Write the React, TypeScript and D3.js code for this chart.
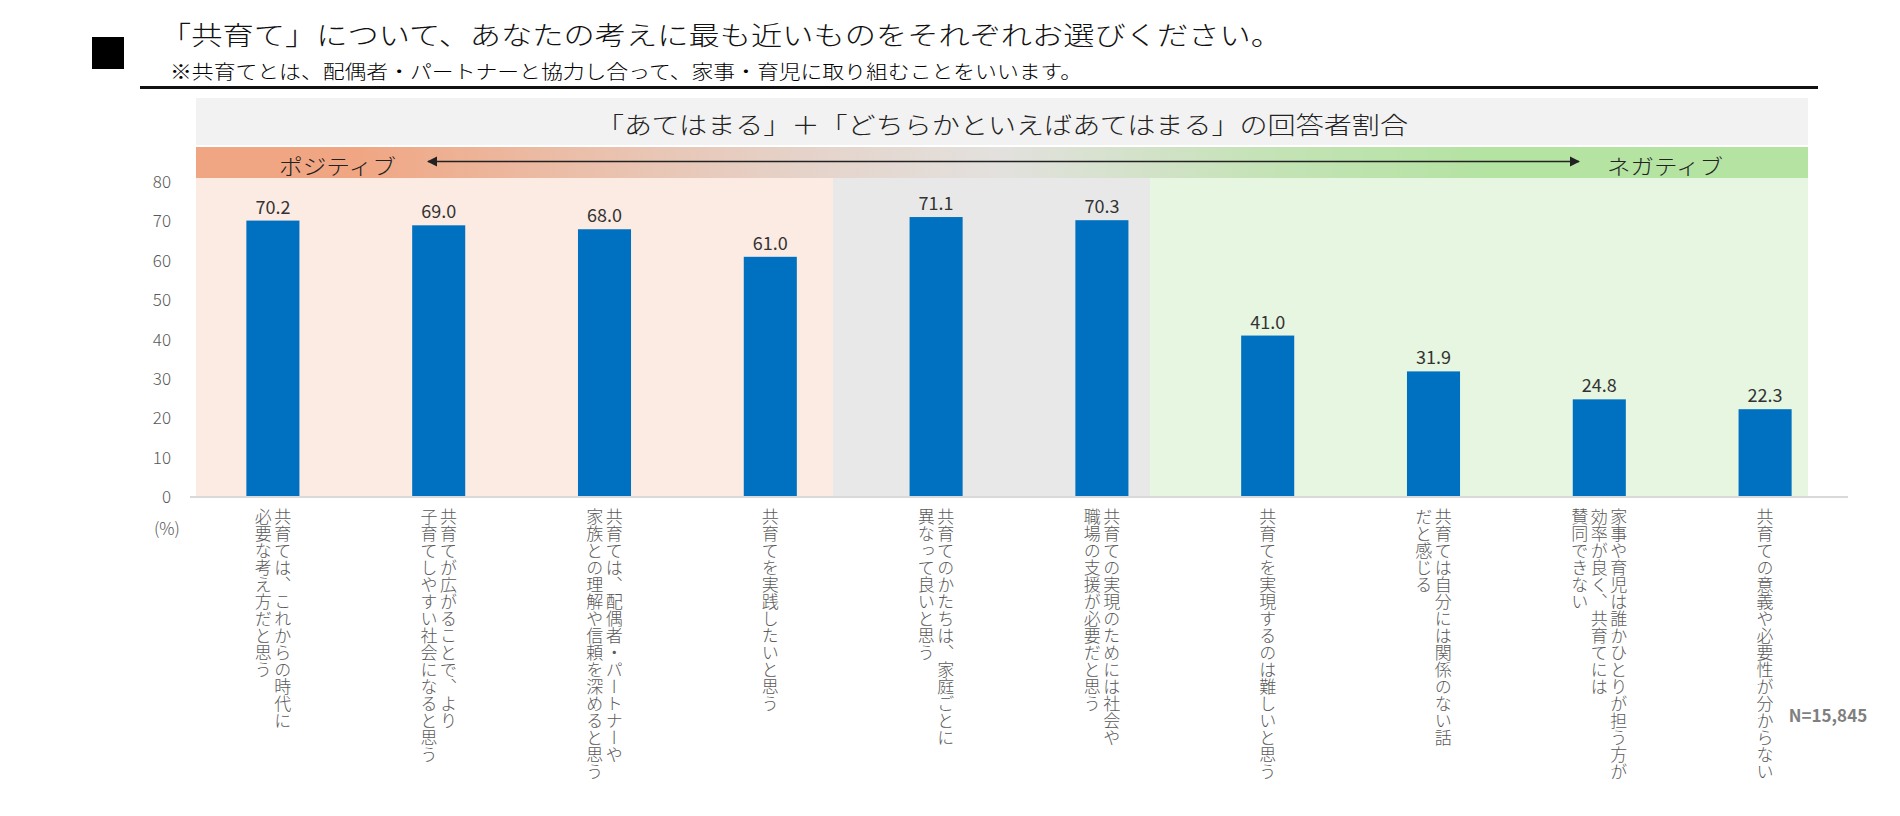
import * as d3 from 'd3';

// 設問ごとのラベル（縦書き、行ごと）
const labelLines: string[][] = [
  ['共育ては、これからの時代に', '必要な考え方だと思う'],
  ['共育てが広がることで、より', '子育てしやすい社会になると思う'],
  ['共育ては、配偶者・パートナーや', '家族との理解や信頼を深めると思う'],
  ['共育てを実践したいと思う'],
  ['共育てのかたちは、家庭ごとに', '異なって良いと思う'],
  ['共育ての実現のためには社会や', '職場の支援が必要だと思う'],
  ['共育てを実現するのは難しいと思う'],
  ['共育ては自分には関係のない話', 'だと感じる'],
  ['家事や育児は誰かひとりが担う方が', '効率が良く、共育てには', '賛同できない'],
  ['共育ての意義や必要性が分からない'],
];
const categories = labelLines.map(l => l.join(''));
const values = [70.2, 69.0, 68.0, 61.0, 71.1, 70.3, 41.0, 31.9, 24.8, 22.3];
const yTicks = [0, 10, 20, 30, 40, 50, 60, 70, 80];

const W = 1900;
const H = 816;
const FONT = "'Noto Sans CJK JP', 'Noto Sans', sans-serif";
const GREY = '#595959';

export default function App() {
  const x = d3.scaleBand<string>()
    .domain(categories)
    .range([190, 1848])
    .paddingInner(0.68)
    .paddingOuter(0.34);
  const y = d3.scaleLinear().domain([0, 80]).range([497, 182]);

  const plotTop = 178;
  const plotBottom = y(0);
  const lineGap = 19.5;

  return (
    <svg width={W} height={H} style={{ position: 'absolute', left: 0, top: 0, background: '#fff' }}
      fontFamily={FONT} fontWeight={300}>
      <defs>
        <linearGradient id="band" x1="0" x2="1" y1="0" y2="0">
          <stop offset="0" stopColor="#f0a683" />
          <stop offset="0.1" stopColor="#f0a683" />
          <stop offset="0.25" stopColor="#eac1ad" />
          <stop offset="0.38" stopColor="#e5d3ca" />
          <stop offset="0.5" stopColor="#e3e1de" />
          <stop offset="0.66" stopColor="#c5e3b7" />
          <stop offset="0.8" stopColor="#b4e3a2" />
          <stop offset="1" stopColor="#b4e3a2" />
        </linearGradient>
        <marker id="arrowR" viewBox="0 0 10 10" refX="9" refY="5" markerWidth="7" markerHeight="7" orient="auto">
          <path d="M0,0L10,5L0,10z" fill="#222" />
        </marker>
        <marker id="arrowL" viewBox="0 0 10 10" refX="1" refY="5" markerWidth="7" markerHeight="7" orient="auto">
          <path d="M10,0L0,5L10,10z" fill="#222" />
        </marker>
      </defs>

      {/* タイトル */}
      <rect x={92} y={37} width={32} height={32} fill="#000" />
      <text x={160} y={45} fontSize={26} fill="#111" textLength={1122} lengthAdjust="spacingAndGlyphs">
        「共育て」について、あなたの考えに最も近いものをそれぞれお選びください。
      </text>
      <text x={170} y={79} fontSize={19} fill="#000" textLength={912} lengthAdjust="spacingAndGlyphs">
        ※共育てとは、配偶者・パートナーと協力し合って、家事・育児に取り組むことをいいます。
      </text>
      <rect x={140} y={86} width={1678} height={3} fill="#111" />

      {/* 見出し */}
      <rect x={196} y={98} width={1612} height={47} fill="#f2f2f2" />
      <text x={596} y={134} fontSize={24} fill="#222" textLength={812} lengthAdjust="spacingAndGlyphs">
        「あてはまる」＋「どちらかといえばあてはまる」の回答者割合
      </text>
      <rect x={196} y={147} width={1612} height={31} fill="url(#band)" />
      <text x={279} y={174} fontSize={21} fill="#222" textLength={117} lengthAdjust="spacingAndGlyphs">ポジティブ</text>
      <text x={1607} y={174} fontSize={21} fill="#222" textLength={116} lengthAdjust="spacingAndGlyphs">ネガティブ</text>
      <line x1={428} x2={1579} y1={161.5} y2={161.5} stroke="#222" strokeWidth={1.5}
        markerStart="url(#arrowL)" markerEnd="url(#arrowR)" />

      {/* 背景の区分 */}
      <rect x={196} y={plotTop} width={637} height={plotBottom - plotTop} fill="#fcebe3" />
      <rect x={833} y={plotTop} width={317} height={plotBottom - plotTop} fill="#e8e8e8" />
      <rect x={1150} y={plotTop} width={658} height={plotBottom - plotTop} fill="#e6f6e0" />

      {/* y軸目盛 */}
      {yTicks.map(t => (
        <text key={t} x={171} y={y(t) + 6} fontSize={17} fill={GREY} textAnchor="end">{t}</text>
      ))}
      <text x={167} y={535} fontSize={17} fill={GREY} textAnchor="middle">(%)</text>

      {/* 棒 */}
      {categories.map((c, i) => (
        <g key={c}>
          <rect x={x(c)} y={y(values[i])} width={x.bandwidth()} height={plotBottom - y(values[i])} fill="#0070c0" />
          <text x={(x(c) ?? 0) + x.bandwidth() / 2} y={y(values[i]) - 7} fontSize={18} fontWeight={400}
            fill="#333" textAnchor="middle">
            {values[i].toFixed(1)}
          </text>
        </g>
      ))}
      <line x1={190} x2={1848} y1={plotBottom} y2={plotBottom} stroke="#d9d9d9" strokeWidth={2} />

      {/* 縦書きラベル */}
      {labelLines.map((lines, i) => {
        const cx = (x(categories[i]) ?? 0) + x.bandwidth() / 2;
        const n = lines.length;
        return lines.map((line, j) => (
          <text key={`${i}-${j}`} x={cx + ((n - 1) / 2 - j) * lineGap} y={508} fontSize={17} fill={GREY}
            style={{ writingMode: 'vertical-rl' }}>
            {line}
          </text>
        ));
      })}

      <text x={1828} y={722} fontSize={17} fontWeight="bold" fill="#7f7f7f" textAnchor="middle">N=15,845</text>
    </svg>
  );
}
